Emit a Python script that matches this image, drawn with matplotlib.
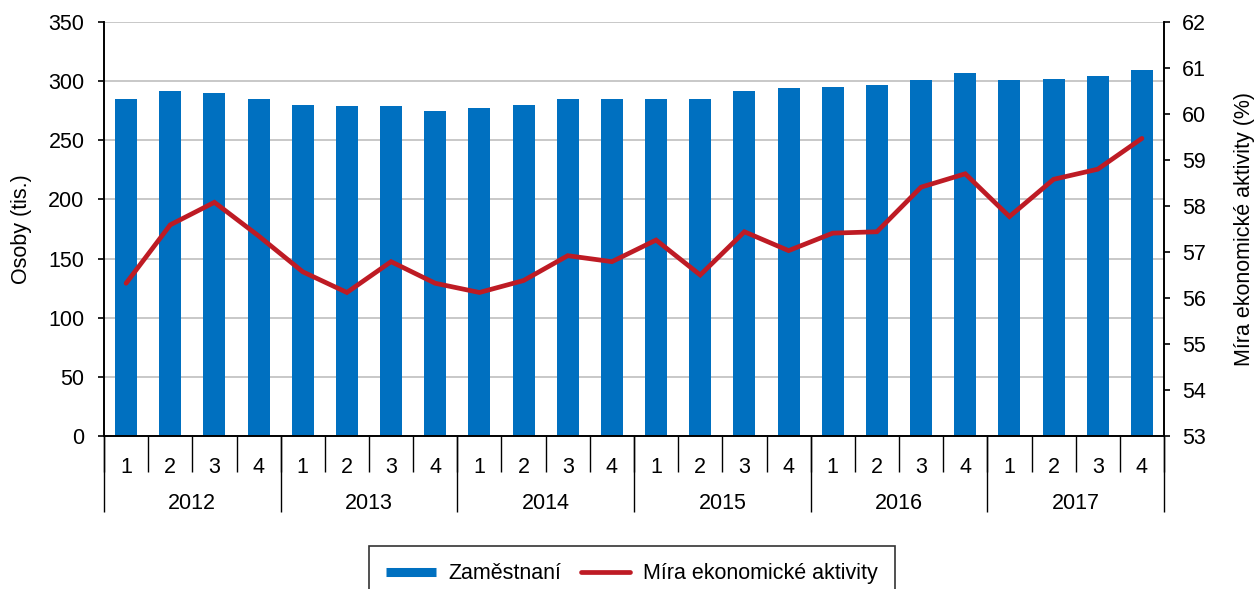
import matplotlib.pyplot as plt
from matplotlib.lines import Line2D

plt.rcParams['font.family'] = ['Liberation Sans', 'DejaVu Sans']

years = ["2012", "2013", "2014", "2015", "2016", "2017"]
quarters = ["1", "2", "3", "4"]

# Zaměstnaní (tis. osob)
employed = [285, 292, 290, 285,
            280, 279, 279, 275,
            277, 280, 285, 285,
            285, 285, 292, 294,
            295, 297, 301, 307,
            301, 302, 304, 309]

# Míra ekonomické aktivity (%)
activity = [56.32, 57.59, 58.08, 57.35,
            56.57, 56.12, 56.79, 56.32,
            56.12, 56.38, 56.92, 56.79,
            57.26, 56.50, 57.44, 57.03,
            57.41, 57.44, 58.41, 58.70,
            57.77, 58.58, 58.80, 59.47]

blue = "#0070C0"
red = "#BE1B24"
fs = 15.5

fig = plt.figure(figsize=(12.55, 5.89), dpi=100)
ax = fig.add_axes([104 / 1255, 1 - 436 / 589, 1060 / 1255, 414 / 589])
ax2 = ax.twinx()

x = list(range(len(employed)))
ax.bar(x, employed, width=0.5, color=blue, zorder=2)
ax2.plot(x, activity, color=red, lw=3.4, solid_capstyle="round",
         solid_joinstyle="miter", zorder=3)

ax.set_xlim(-0.5, len(employed) - 0.5)
ax.set_ylim(0, 350)
ax.set_yticks(range(0, 351, 50))
ax2.set_ylim(53, 62)
ax2.set_yticks(range(53, 63))

ax.yaxis.grid(True, color="#BFBFBF", lw=1.2, zorder=0)
ax.set_axisbelow(True)

for a in (ax, ax2):
  a.spines["top"].set_visible(False)
  for s in a.spines.values():
    s.set_linewidth(1.2)
ax.tick_params(axis="y", direction="out", length=4.5, width=1.2, labelsize=fs, pad=9.5)
ax2.tick_params(axis="y", direction="out", length=4.5, width=1.2, labelsize=fs, pad=8.5)

# quarter labels + short separators
ax.set_xticks(x)
ax.set_xticklabels(quarters * len(years))
ax.set_xticks([i - 0.5 for i in range(len(employed) + 1)], minor=True)
ax.tick_params(axis="x", which="major", length=0, labelsize=fs, pad=15)
ax.tick_params(axis="x", which="minor", length=26, width=1.0, direction="out")

# year labels + long separators
sec = ax.secondary_xaxis("bottom")
sec.spines["bottom"].set_visible(False)
sec.set_xticks([i * 4 + 1.5 for i in range(len(years))])
sec.set_xticklabels(years)
sec.set_xticks([i * 4 - 0.5 for i in range(len(years) + 1)], minor=True)
sec.tick_params(axis="x", which="major", length=0, labelsize=fs, pad=41)
sec.tick_params(axis="x", which="minor", length=55, width=1.0, direction="out")

ax.set_ylabel("Osoby (tis.)", fontsize=fs, labelpad=12)
ax2.set_ylabel("Míra ekonomické aktivity (%)", fontsize=fs, labelpad=20)

handles = [Line2D([], [], color=blue, lw=6.5, solid_capstyle="butt"),
           Line2D([], [], color=red, lw=3.4, solid_capstyle="round")]
leg = fig.legend(handles, ["Zaměstnaní", "Míra ekonomické aktivity"],
                 loc="upper center", bbox_to_anchor=(632 / 1255, 1 - 546 / 589),
                 ncol=2, fontsize=fs, frameon=True, fancybox=False,
                 handlelength=2.3, handletextpad=0.6, columnspacing=0.9,
                 borderpad=0.8, borderaxespad=0)
leg.get_frame().set_edgecolor("black")
leg.get_frame().set_linewidth(1.2)

fig.savefig("out.png", dpi=100)
